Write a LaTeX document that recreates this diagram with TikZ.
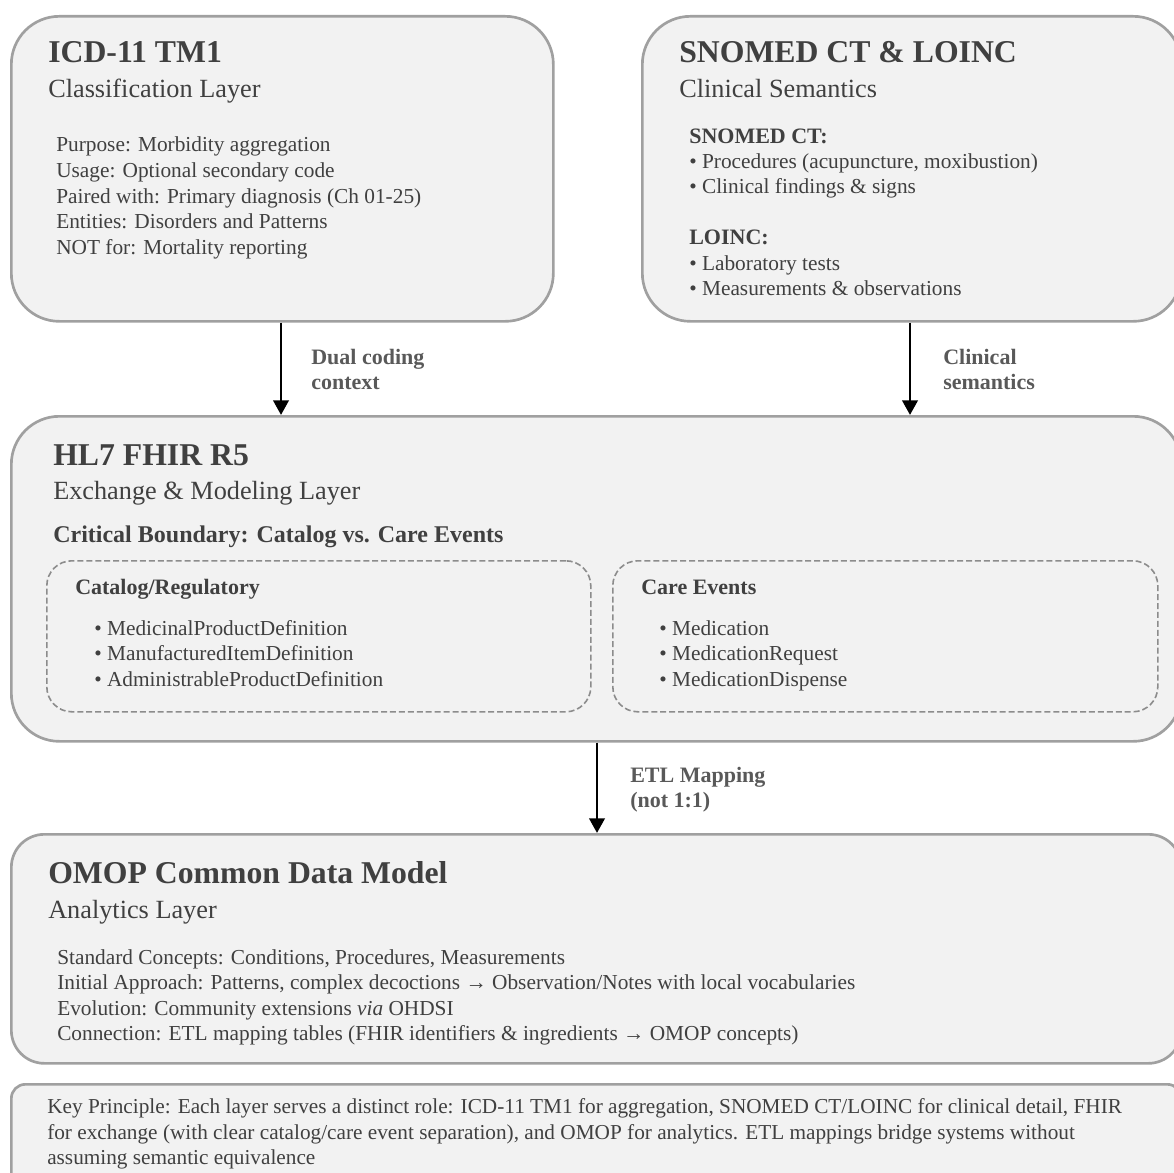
\documentclass[tikz,border=0pt]{standalone}
\usepackage{fontspec}
\setmainfont{Liberation Serif}
\usetikzlibrary{arrows.meta}
\definecolor{boxfill}{HTML}{F2F2F2}
\definecolor{boxline}{HTML}{A0A0A0}
\definecolor{dashline}{HTML}{8C8C8C}
\definecolor{txt}{HTML}{404040}
\definecolor{lbl}{HTML}{595959}
\begin{document}
\begin{tikzpicture}[x=0.75pt,y=-0.75pt,
  layer/.style={draw=boxline, line width=2pt, fill=boxfill, rectangle, anchor=north west, inner sep=0pt},
  group/.style={draw=dashline, line width=1.2pt, dash pattern=on 4.5pt off 2.2pt, rectangle, anchor=north west, inner sep=0pt, rounded corners=18.75pt, minimum height=113.25pt},
  txtbase/.style={anchor=base west, inner sep=0pt, text=txt},
  ttl/.style={txtbase, font=\fontsize{23.8}{28}\selectfont\bfseries},
  sub/.style={txtbase, font=\fontsize{19.7}{24}\selectfont},
  body/.style={txtbase, font=\fontsize{16}{19}\selectfont},
  hd/.style={txtbase, font=\fontsize{16.5}{19}\selectfont\bfseries},
  crit/.style={txtbase, font=\fontsize{18}{21}\selectfont\bfseries},
  lab/.style={anchor=base west, inner sep=0pt, text=lbl, font=\fontsize{16.5}{19}\selectfont\bfseries},
  keytxt/.style={txtbase, font=\fontsize{15.95}{19}\selectfont},
  arr/.style={line width=2.2pt, -{Triangle[width=11.5pt,length=11pt]}},
]
\useasboundingbox (0,0) rectangle (1174,1173);
\clip (0,0) rectangle (1174,1173);

% boxes
\node[layer, minimum width=406.5pt, minimum height=228.75pt, rounded corners=36pt] (icd) at (10,15) {};
\node[layer, minimum width=404.25pt, minimum height=228.75pt, rounded corners=36pt] (snomed) at (641,15) {};
\node[layer, minimum width=877.5pt, minimum height=243.75pt, rounded corners=36pt] (fhir) at (10,415) {};
\node[group, minimum width=408pt] (catalog) at (46,560) {};
\node[group, minimum width=408.75pt] (care) at (612,560) {};
\node[layer, minimum width=877.5pt, minimum height=171.75pt, rounded corners=24.75pt] (omop) at (10,833) {};
\node[layer, minimum width=877.5pt, minimum height=90pt, rounded corners=10.5pt] (key) at (10,1083) {};

% arrows
\coordinate (a1) at (281,0);
\coordinate (a2) at (910,0);
\coordinate (a3) at (597,0);
\draw[arr] (a1 |- icd.south) -- (a1 |- fhir.north);
\draw[arr] (a2 |- snomed.south) -- (a2 |- fhir.north);
\draw[arr] (a3 |- fhir.south) -- (a3 |- omop.north);

\node[lab] (l1a) at (311,364) {Dual coding};
\node[lab] (l1b) at (311,389) {context};
\node[lab] (l2a) at (943,364) {Clinical};
\node[lab] (l2b) at (943,389) {semantics};
\node[lab] (l3a) at (630,782) {ETL Mapping};
\node[lab] (l3b) at (630,807) {(not 1:1)};

% ICD box
\node[ttl] (icdt) at (48,63) {ICD-11 TM1};
\node[sub] (icds) at (48,98) {Classification Layer};
\node[body] (icd1) at (56,152) {Purpose: Morbidity aggregation};
\node[body] (icd2) at (56,178) {Usage: Optional secondary code};
\node[body] (icd3) at (56,204) {Paired with: Primary diagnosis (Ch 01-25)};
\node[body] (icd4) at (56,229) {Entities: Disorders and Patterns};
\node[body] (icd5) at (56,255) {NOT for: Mortality reporting};

% SNOMED box
\node[ttl] (snt) at (679,63) {SNOMED CT \& LOINC};
\node[sub] (sns) at (679,98) {Clinical Semantics};
\node[hd] (sn0) at (689,144) {SNOMED CT:};
\node[body] (sn1) at (689,169) {• Procedures (acupuncture, moxibustion)};
\node[body] (sn2) at (689,194) {• Clinical findings \& signs};
\node[hd] (lo0) at (689,245) {LOINC:};
\node[body] (lo1) at (689,271) {• Laboratory tests};
\node[body] (lo2) at (689,296) {• Measurements \& observations};

% FHIR box
\node[ttl] (ft) at (53,465) {HL7 FHIR R5};
\node[sub] (fs) at (53,499) {Exchange \& Modeling Layer};
\node[crit] (fc) at (53,542) {Critical Boundary: Catalog vs. Care Events};
\node[hd] (cat0) at (75,594) {Catalog/Regulatory};
\node[body] (cat1) at (94,635) {• MedicinalProductDefinition};
\node[body] (cat2) at (94,660) {• ManufacturedItemDefinition};
\node[body] (cat3) at (94,686) {• AdministrableProductDefinition};
\node[hd] (care0) at (641,594) {Care Events};
\node[body] (care1) at (659,635) {• Medication};
\node[body] (care2) at (659,660) {• MedicationRequest};
\node[body] (care3) at (659,686) {• MedicationDispense};

% OMOP box
\node[ttl] (ot) at (48,883) {OMOP Common Data Model};
\node[sub] (os) at (48,918) {Analytics Layer};
\node[body] (o1) at (57,964) {Standard Concepts: Conditions, Procedures, Measurements};
\node[body] (o2) at (57,989) {Initial Approach: Patterns, complex decoctions → Observation/Notes with local vocabularies};
\node[body] (o3) at (57,1015) {Evolution: Community extensions \textit{via} OHDSI};
\node[body] (o4) at (57,1040) {Connection: ETL mapping tables (FHIR identifiers \& ingredients → OMOP concepts)};

% key principle
\node[keytxt] (k1) at (47,1113) {Key Principle: Each layer serves a distinct role: ICD-11 TM1 for aggregation, SNOMED CT/LOINC for clinical detail, FHIR};
\node[keytxt] (k2) at (47,1139) {for exchange (with clear catalog/care event separation), and OMOP for analytics. ETL mappings bridge systems without};
\node[keytxt] (k3) at (47,1164) {assuming semantic equivalence};
\end{tikzpicture}
\end{document}
